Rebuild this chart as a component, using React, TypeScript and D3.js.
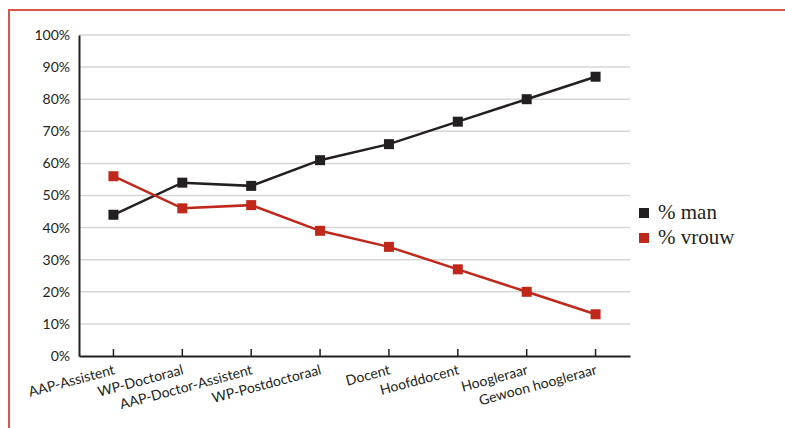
import React, { useEffect, useRef } from "react";
import * as d3 from "d3";

const width = 785,
  height = 428;
const margin = { top: 35, right: 155, bottom: 72, left: 79 };

const categories = [
  "AAP-Assistent",
  "WP-Doctoraal",
  "AAP-Doctor-Assistent",
  "WP-Postdoctoraal",
  "Docent",
  "Hoofddocent",
  "Hoogleraar",
  "Gewoon hoogleraar",
];
const manValues = [44, 54, 53, 61, 66, 73, 80, 87];
const vrouwValues = [56, 46, 47, 39, 34, 27, 20, 13];
const yTicks = [0, 10, 20, 30, 40, 50, 60, 70, 80, 90, 100];
const seriesNames = ["% man", "% vrouw"];
const seriesColors = ["#231f20", "#c0281c"];

export default function App() {
  const xAxisRef = useRef<SVGGElement>(null);
  const yAxisRef = useRef<SVGGElement>(null);

  const innerW = width - margin.left - margin.right;
  const innerH = height - margin.top - margin.bottom;

  const x = d3.scaleBand().domain(categories).range([0, innerW]);
  const y = d3.scaleLinear().domain([0, 100]).range([innerH, 0]);
  const cx = (c: string) => (x(c) ?? 0) + x.bandwidth() / 2;

  const line = d3
    .line<number>()
    .x((_, i) => cx(categories[i]))
    .y((d) => y(d));

  const series = [manValues, vrouwValues];

  useEffect(() => {
    const xg = d3.select(xAxisRef.current!);
    xg.call(d3.axisBottom(x).tickSizeInner(-7).tickSizeOuter(0).tickFormat(() => ""));
    xg.select(".domain").attr("stroke", "#231f20").attr("stroke-width", 2);
    xg.selectAll(".tick line").attr("stroke", "#231f20").attr("stroke-width", 1.5);

    const yg = d3.select(yAxisRef.current!);
    yg.call(
      d3
        .axisLeft(y)
        .tickValues(yTicks)
        .tickFormat((d) => `${d}%`)
        .tickSize(0)
        .tickPadding(9),
    );
    yg.select(".domain").attr("stroke", "#231f20").attr("stroke-width", 2);
    yg.selectAll(".tick text")
      .attr("font-family", "Lato, 'Open Sans', sans-serif")
      .attr("font-size", 14)
      .attr("fill", "#231f20");
  }, []);

  return (
    <svg width={width} height={height} style={{ position: "absolute", left: 0, top: 0 }}>
      <rect width={width} height={height} fill="#fff" />
      <path d={`M9,${height} V10 H${width}`} fill="none" stroke="#d9574a" strokeWidth={2} />
      <g transform={`translate(${margin.left},${margin.top})`}>
        {yTicks
          .filter((t) => t > 0)
          .map((t) => (
            <line key={t} x1={0} x2={innerW} y1={y(t)} y2={y(t)} stroke="#d6d6d6" strokeWidth={1.5} />
          ))}
        <g ref={xAxisRef} transform={`translate(0,${innerH})`} />
        <g ref={yAxisRef} />
        {categories.map((c) => (
          <g key={c} transform={`translate(${cx(c) + 2},${innerH + 18})`}>
            <g transform="rotate(-15)">
              <text
                textAnchor="end"
                fontFamily="Lato, 'Open Sans', sans-serif"
                fontSize={14}
                fill="#231f20"
              >
                {c}
              </text>
            </g>
          </g>
        ))}
        {series.map((vals, s) => (
          <g key={s}>
            <path d={line(vals) ?? ""} fill="none" stroke={seriesColors[s]} strokeWidth={2.5} />
            {vals.map((v, i) => (
              <rect
                key={i}
                x={cx(categories[i]) - 5}
                y={y(v) - 5}
                width={10}
                height={10}
                fill={seriesColors[s]}
              />
            ))}
          </g>
        ))}
      </g>
      <g transform="translate(639,208)">
        {seriesNames.map((n, i) => (
          <g key={n} transform={`translate(0,${i * 25})`}>
            <rect x={0} y={0} width={10} height={10} fill={seriesColors[i]} />
            <text x={19} y={11} fontFamily="'Liberation Serif', serif" fontSize={21} fill="#231f20">
              {n}
            </text>
          </g>
        ))}
      </g>
    </svg>
  );
}
